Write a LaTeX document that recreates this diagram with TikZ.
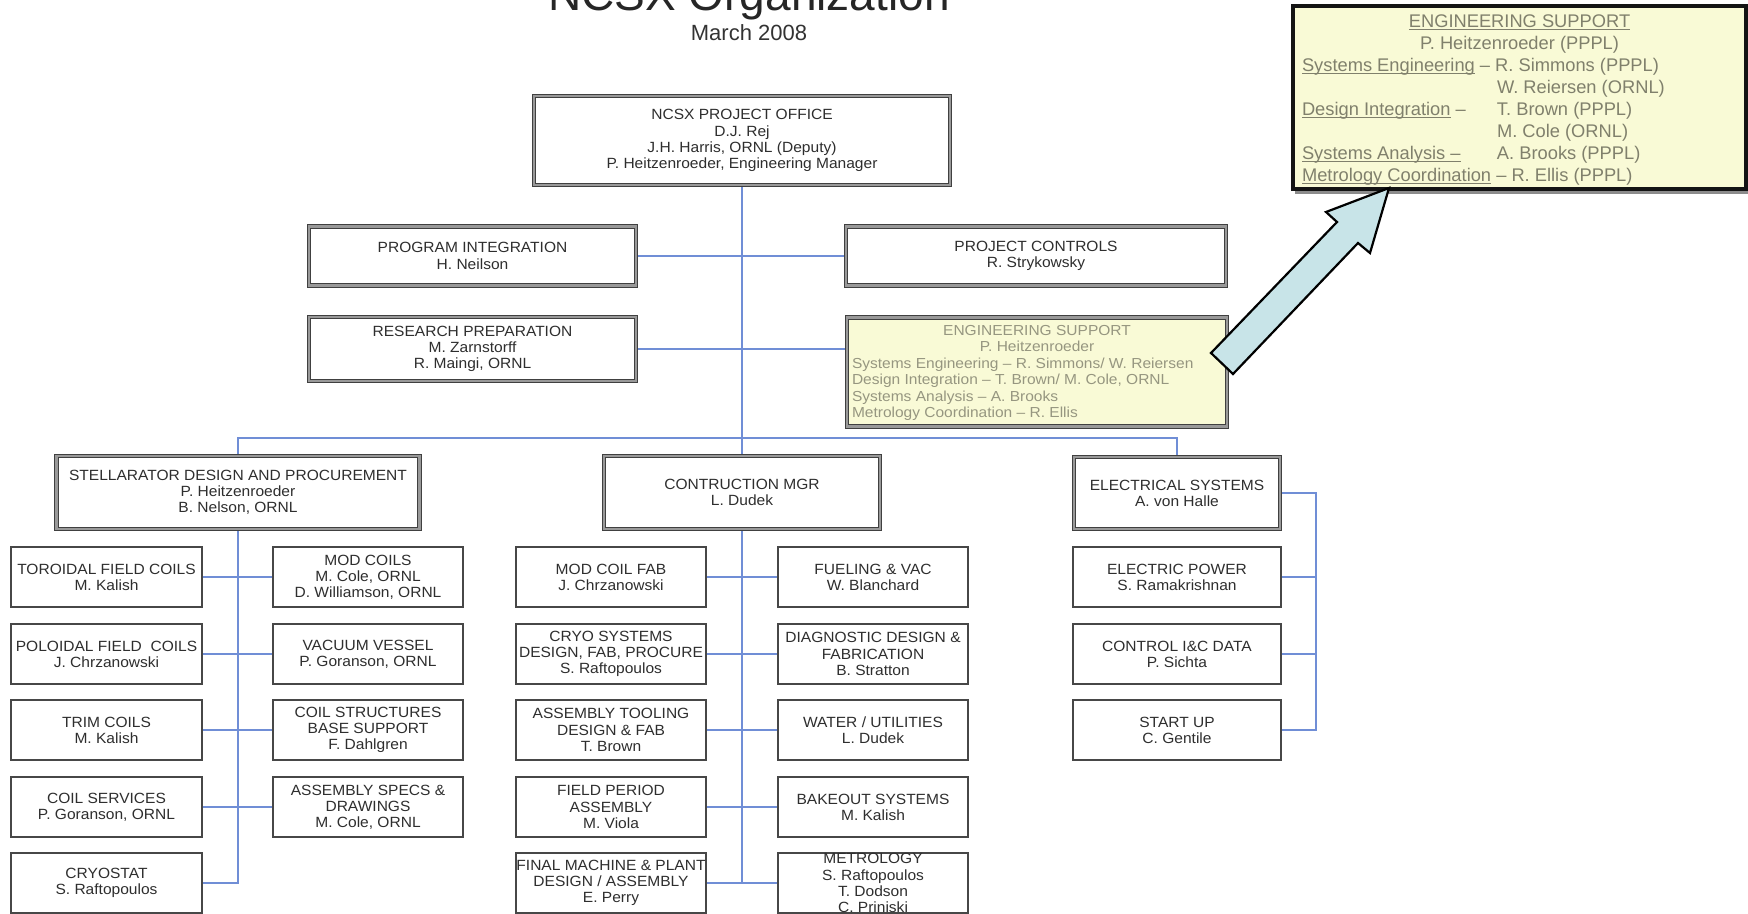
\documentclass[tikz,border=0pt]{standalone}
\usepackage{fontspec}
\setmainfont{Liberation Sans}
\newfontfamily\esfont{Liberation Sans}[FakeStretch=1.07]
\newfontfamily\boxfont{Liberation Sans}[FakeStretch=1.05]
\usetikzlibrary{backgrounds}
\definecolor{connc}{RGB}{112,142,214}
\definecolor{esfill}{RGB}{249,250,214}
\definecolor{estext}{RGB}{150,150,128}
\definecolor{esbigtext}{RGB}{128,128,108}
\definecolor{arrowfill}{RGB}{200,228,232}
\newcommand\undl[1]{\leavevmode\setbox0\hbox{#1}\rlap{\rule[-2.4pt]{\wd0}{0.9pt}}\copy0\relax}
\newcommand\bx[7]{%
  \node[#1, minimum width=#5pt, minimum height=#6pt] (#2) at (#3,#4) {};
  \node[txt] (#2-t) at (#2.center) {#7};}
\begin{document}
\begin{tikzpicture}[x=1pt,y=-1pt,
  heavy/.style={draw=black!75, line width=0.9pt, double=black!40, double distance=2.4pt, fill=white, inner sep=0pt},
  sub/.style={draw=black!72, line width=1.6pt, fill=white, inner sep=0pt},
  txt/.style={align=center, text=black!82, font=\boxfont\fontsize{14.8}{16.2}\selectfont, inner sep=0pt},
  conn/.style={draw=connc, line width=2pt}]
\useasboundingbox (0,0) rectangle (1748,913);

% title
\node[anchor=base, text=black!85, font=\fontsize{46}{50}\selectfont] (title) at (749,10) {NCSX Organization};
\node[anchor=base, text=black!80, font=\fontsize{22}{24}\selectfont] (date) at (749,40.5) {March 2008};

% top level
\bx{heavy}{po}{742}{140.5}{416}{89}{NCSX PROJECT OFFICE\\D.J. Rej\\J.H. Harris, ORNL (Deputy)\\P. Heitzenroeder, Engineering Manager}
\bx{heavy}{pi}{472.5}{256}{327}{59}{PROGRAM INTEGRATION\\H. Neilson}
\bx{heavy}{pc}{1036}{256}{380}{59}{PROJECT CONTROLS\\R. Strykowsky}
\bx{heavy}{rp}{472.5}{349}{327}{64}{RESEARCH PREPARATION\\M. Zarnstorff\\R. Maingi, ORNL}

% engineering support (small)
\node[heavy, fill=esfill, minimum width=380pt, minimum height=109pt] (ess) at (1037,372) {};
\node[inner sep=0pt, text=estext, font=\esfont\fontsize{14.5}{16.4}\selectfont] (ess-t) at (1037,373)
 {\parbox{370pt}{\centering ENGINEERING SUPPORT\\P. Heitzenroeder\par\raggedright
 Systems Engineering – R. Simmons/ W. Reiersen\\Design Integration – T. Brown/ M. Cole, ORNL\\Systems Analysis – A. Brooks\\Metrology Coordination – R. Ellis}};

% engineering support (big)
\fill[black!45] (1295,8) rectangle (1751,194);
\node[draw=black!92, line width=3.2pt, fill=esfill, inner sep=0pt, minimum width=453pt, minimum height=183pt] (esb) at (1519.5,97.5) {};
\node[inner sep=0pt, text=esbigtext, font=\fontsize{18.3}{22.1}\selectfont] (esb-t) at (1519.5,100)
 {\parbox{435pt}{\centering \undl{ENGINEERING SUPPORT}\\P. Heitzenroeder (PPPL)\par\raggedright
 \undl{Systems Engineering} – R. Simmons (PPPL)\\
 \hspace*{195pt}W. Reiersen (ORNL)\\
 \makebox[195pt][l]{\undl{Design Integration} –}T. Brown (PPPL)\\
 \hspace*{195pt}M. Cole (ORNL)\\
 \makebox[195pt][l]{\undl{Systems Analysis –}}A. Brooks (PPPL)\\
 \undl{Metrology Coordination} – R. Ellis (PPPL)}};

% arrow
\draw[fill=arrowfill, draw=black, line width=2.2pt, line join=miter]
  (1211,353) -- (1233,374) -- (1358,243) -- (1370,253) -- (1389,188) -- (1326,212) -- (1337,222) -- cycle;

% second level
\bx{heavy}{st}{238}{492.5}{363}{73}{STELLARATOR DESIGN AND PROCUREMENT\\P. Heitzenroeder\\B. Nelson, ORNL}
\bx{heavy}{cm}{742}{492.5}{276}{73}{CONTRUCTION MGR\\L. Dudek}
\bx{heavy}{el}{1177}{493}{206}{72}{ELECTRICAL SYSTEMS\\A. von Halle}

% stellarator children
\bx{sub}{tf}{106.5}{577}{191}{60}{TOROIDAL FIELD COILS\\M. Kalish}
\bx{sub}{pf}{106.5}{654}{191}{60}{POLOIDAL FIELD~ COILS\\J. Chrzanowski}
\bx{sub}{tc}{106.5}{730}{191}{60}{TRIM COILS\\M. Kalish}
\bx{sub}{cs}{106.5}{807}{191}{60}{COIL SERVICES\\P. Goranson, ORNL}
\bx{sub}{cr}{106.5}{883}{191}{60}{CRYOSTAT\\S. Raftopoulos}
\bx{sub}{mc}{368}{577}{190}{60}{MOD COILS\\M. Cole, ORNL\\D. Williamson, ORNL}
\bx{sub}{vv}{368}{654}{190}{60}{VACUUM VESSEL\\P. Goranson, ORNL}
\bx{sub}{cst}{368}{730}{190}{60}{COIL STRUCTURES\\BASE SUPPORT\\F. Dahlgren}
\bx{sub}{as}{368}{807}{190}{60}{ASSEMBLY SPECS \&\\DRAWINGS\\M. Cole, ORNL}

% construction children
\bx{sub}{mcf}{611}{577}{190}{60}{MOD COIL FAB\\J. Chrzanowski}
\bx{sub}{cry}{611}{654}{190}{60}{CRYO SYSTEMS\\DESIGN, FAB, PROCURE\\S. Raftopoulos}
\bx{sub}{at}{611}{730}{190}{60}{ASSEMBLY TOOLING\\DESIGN \& FAB\\T. Brown}
\bx{sub}{fp}{611}{807}{190}{60}{FIELD PERIOD\\ASSEMBLY\\M. Viola}
\bx{sub}{fm}{611}{883}{190}{60}{FINAL MACHINE \& PLANT\\DESIGN / ASSEMBLY\\E. Perry}
\bx{sub}{fv}{873}{577}{190}{60}{FUELING \& VAC\\W. Blanchard}
\bx{sub}{dd}{873}{654}{190}{60}{DIAGNOSTIC DESIGN \&\\FABRICATION\\B. Stratton}
\bx{sub}{wu}{873}{730}{190}{60}{WATER / UTILITIES\\L. Dudek}
\bx{sub}{bk}{873}{807}{190}{60}{BAKEOUT SYSTEMS\\M. Kalish}
\bx{sub}{me}{873}{883}{190}{60}{METROLOGY\\S. Raftopoulos\\T. Dodson\\C. Priniski}

% electrical children
\bx{sub}{ep}{1177}{577}{208}{60}{ELECTRIC POWER\\S. Ramakrishnan}
\bx{sub}{ic}{1177}{654}{208}{60}{CONTROL I\&C DATA\\P. Sichta}
\bx{sub}{su}{1177}{730}{208}{60}{START UP\\C. Gentile}

% connectors
\begin{scope}[on background layer]
\fill[white] (0,0) rectangle (1748,913);
\draw[conn] (po.south) -- (cm.north);
\draw[conn] (pi.east) -- (pc.west);
\draw[conn] (rp.east) -- (rp.east -| ess.west);
\coordinate (busL) at (238,438);
\coordinate (busR) at (1177,438);
\draw[conn] (st.north) -- (busL) -- (busR) -- (el.north);
\draw[conn] (st.south) |- (cr.east);
\draw[conn] (tf.east) -- (mc.west);
\draw[conn] (pf.east) -- (vv.west);
\draw[conn] (tc.east) -- (cst.west);
\draw[conn] (cs.east) -- (as.west);
\draw[conn] (cm.south) -- (cm.south |- fm.east);
\draw[conn] (mcf.east) -- (fv.west);
\draw[conn] (cry.east) -- (dd.west);
\draw[conn] (at.east) -- (wu.west);
\draw[conn] (fp.east) -- (bk.west);
\draw[conn] (fm.east) -- (me.west);
\coordinate (erail) at (1316,493);
\draw[conn] (el.east) -- (erail) |- (su.east);
\draw[conn] (ep.east) -- (ep.east -| erail);
\draw[conn] (ic.east) -- (ic.east -| erail);
\end{scope}
\end{tikzpicture}
\end{document}
